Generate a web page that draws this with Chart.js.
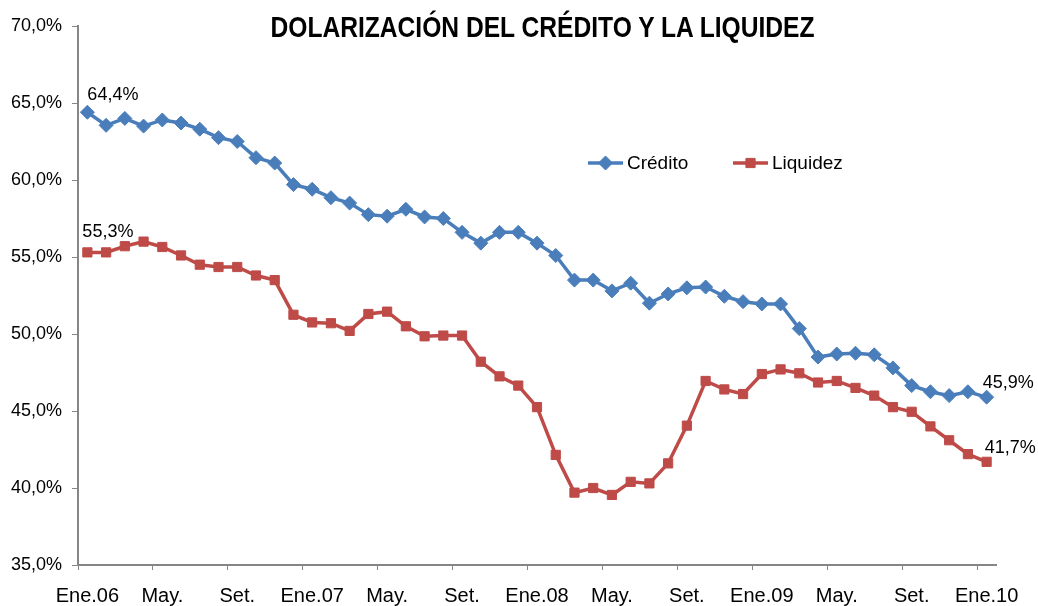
<!DOCTYPE html>
<html lang="es">
<head>
<meta charset="utf-8">
<title>Dolarización del crédito y la liquidez</title>
<script src="https://cdn.jsdelivr.net/npm/chart.js@4.4.1/dist/chart.umd.min.js"></script>
<style>
  html, body { margin: 0; padding: 0; background: #fff; }
  #caja { position: relative; width: 1038px; height: 606px; }
  #titulo {
    position: absolute; left: 0; top: 11px; width: 1085px;
    text-align: center; margin: 0; white-space: nowrap;
    font: bold 30px 'Liberation Sans', Arial, sans-serif;
    line-height: 32px; color: #000;
    transform: scaleX(0.82); transform-origin: 542.5px 50%;
  }
</style>
</head>
<body>
<div id="caja">
  <canvas id="grafico" width="1038" height="606"></canvas>
  <div id="titulo">DOLARIZACIÓN DEL CRÉDITO Y LA LIQUIDEZ</div>
</div>
<script>
// Meses (Ene.06 a Ene.10), se muestra una etiqueta cada 4 meses
var meses = [
  'Ene.06','Feb.','Mar.','Abr.','May.','Jun.','Jul.','Ago.','Set.','Oct.','Nov.','Dic.',
  'Ene.07','Feb.','Mar.','Abr.','May.','Jun.','Jul.','Ago.','Set.','Oct.','Nov.','Dic.',
  'Ene.08','Feb.','Mar.','Abr.','May.','Jun.','Jul.','Ago.','Set.','Oct.','Nov.','Dic.',
  'Ene.09','Feb.','Mar.','Abr.','May.','Jun.','Jul.','Ago.','Set.','Oct.','Nov.','Dic.',
  'Ene.10'
];

// Dolarización del crédito (%)
var credito = [
  64.4, 63.55, 64.0, 63.5, 63.9, 63.7, 63.3, 62.75, 62.5, 61.45, 61.1, 59.7,
  59.4, 58.85, 58.5, 57.75, 57.65, 58.1, 57.6, 57.5, 56.6, 55.9, 56.6, 56.6,
  55.9, 55.1, 53.5, 53.5, 52.8, 53.3, 52.0, 52.6, 53.0, 53.05, 52.45, 52.1,
  51.95, 51.95, 50.35, 48.5, 48.7, 48.75, 48.65, 47.8, 46.65, 46.25, 46.0, 46.25,
  45.9
];

// Dolarización de la liquidez (%)
var liquidez = [
  55.3, 55.3, 55.7, 56.0, 55.65, 55.1, 54.5, 54.35, 54.35, 53.8, 53.5, 51.25,
  50.75, 50.7, 50.2, 51.3, 51.45, 50.5, 49.85, 49.9, 49.9, 48.2, 47.25, 46.65,
  45.25, 42.15, 39.7, 40.0, 39.55, 40.4, 40.3, 41.6, 44.05, 46.95, 46.4, 46.1,
  47.4, 47.7, 47.45, 46.85, 46.95, 46.5, 46.0, 45.25, 44.95, 44.0, 43.1, 42.2,
  41.7
];

var azul = '#4A7EBB';
var rojo = '#BE4B48';
var gris = '#868686';
var fuente = "'Liberation Sans', Arial, sans-serif";

function formatoPct(v) {
  return v.toFixed(1).replace('.', ',') + '%';
}

// Etiquetas de valor en el primer y último punto
var etiquetasValor = {
  id: 'etiquetasValor',
  afterDatasetsDraw: function (chart) {
    var ctx = chart.ctx;
    var marcas = [
      { ds: 0, i: 0, dx: 0, dy: -17 },
      { ds: 1, i: 0, dx: -5, dy: -20 },
      { ds: 0, i: meses.length - 1, dx: -4, dy: -14 },
      { ds: 1, i: meses.length - 1, dx: -2, dy: -14 }
    ];
    ctx.save();
    ctx.font = '18px ' + fuente;
    ctx.fillStyle = '#000';
    ctx.textAlign = 'left';
    ctx.textBaseline = 'middle';
    marcas.forEach(function (m) {
      var p = chart.getDatasetMeta(m.ds).data[m.i];
      var v = chart.data.datasets[m.ds].data[m.i];
      ctx.fillText(formatoPct(v), p.x + m.dx, p.y + m.dy);
    });
    ctx.restore();
  }
};

// Leyenda dentro del área del gráfico
var leyenda = {
  id: 'leyenda',
  afterDraw: function (chart) {
    var ctx = chart.ctx;
    var y = 163;
    var items = [
      { x: 588, ds: 0 },
      { x: 733, ds: 1 }
    ];
    ctx.save();
    items.forEach(function (it) {
      var d = chart.data.datasets[it.ds];
      ctx.strokeStyle = d.borderColor;
      ctx.lineWidth = d.borderWidth;
      ctx.beginPath();
      ctx.moveTo(it.x, y);
      ctx.lineTo(it.x + 35, y);
      ctx.stroke();
      ctx.fillStyle = d.pointBackgroundColor;
      ctx.strokeStyle = d.borderColor;
      ctx.lineWidth = 1;
      Chart.helpers.drawPoint(ctx, { pointStyle: d.pointStyle, radius: d.pointRadius, borderWidth: 1 }, it.x + 17.5, y);
      ctx.font = '19px ' + fuente;
      ctx.fillStyle = '#000';
      ctx.textAlign = 'left';
      ctx.textBaseline = 'middle';
      ctx.fillText(d.label, it.x + 39, y + 1);
    });
    ctx.restore();
  }
};

var ctx = document.getElementById('grafico');

var grafico = new Chart(ctx, {
  type: 'line',
  data: {
    labels: meses,
    datasets: [
      {
        label: 'Crédito',
        data: credito,
        borderColor: azul,
        backgroundColor: azul,
        pointBackgroundColor: azul,
        pointBorderColor: azul,
        borderWidth: 3.5,
        pointStyle: 'rectRot',
        pointRadius: 7,
        pointBorderWidth: 1,
        tension: 0
      },
      {
        label: 'Liquidez',
        data: liquidez,
        borderColor: rojo,
        backgroundColor: rojo,
        pointBackgroundColor: rojo,
        pointBorderColor: rojo,
        borderWidth: 3.5,
        pointStyle: 'rect',
        pointRadius: 6.5,
        pointBorderWidth: 1,
        tension: 0
      }
    ]
  },
  options: {
    responsive: false,
    animation: false,
    devicePixelRatio: 1,
    layout: {
      padding: { top: 26, right: 42, left: 0, bottom: 0 }
    },
    scales: {
      x: {
        type: 'category',
        offset: true,
        border: { display: true, color: gris, width: 2 },
        grid: {
          offset: true,
          drawOnChartArea: false,
          drawTicks: true,
          tickLength: 5,
          color: function (c) { return c.index % 4 === 0 ? gris : 'rgba(0,0,0,0)'; },
          lineWidth: 1
        },
        ticks: {
          autoSkip: false,
          maxRotation: 0,
          minRotation: 0,
          padding: 14,
          color: '#000',
          font: { family: fuente, size: 20 },
          callback: function (val, i) { return i % 4 === 0 ? meses[i] : ''; }
        },
        afterFit: function (s) { s.height = 41; }
      },
      y: {
        min: 35,
        max: 70,
        border: { display: true, color: gris, width: 2 },
        grid: {
          drawOnChartArea: false,
          drawTicks: true,
          tickLength: 6,
          color: gris
        },
        ticks: {
          stepSize: 5,
          padding: 10,
          color: '#000',
          font: { family: fuente, size: 18 },
          callback: function (v) { return formatoPct(v); }
        },
        afterFit: function (s) { s.width = 78; }
      }
    },
    plugins: {
      legend: { display: false },
      title: { display: false },
      tooltip: { enabled: false }
    }
  },
  plugins: [etiquetasValor, leyenda]
});
</script>
</body>
</html>
